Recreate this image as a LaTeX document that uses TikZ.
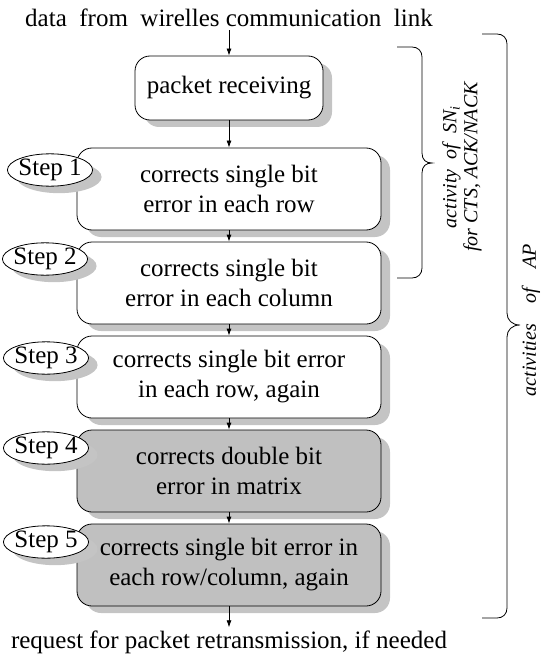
\documentclass[tikz,border=0pt]{standalone}
\usepackage{fontspec}
\setmainfont{Liberation Serif}
\usetikzlibrary{shapes.geometric,shadows,arrows.meta}
\definecolor{shdcol}{RGB}{196,196,196}
\definecolor{boxgray}{RGB}{192,192,192}
\begin{document}
\begin{tikzpicture}[x=1pt,y=-1pt,
 every node/.style={font=\fontsize{25}{30}\selectfont},
 shadowed/.style={drop shadow={shadow xshift=9pt,shadow yshift=-7pt,fill=shdcol,opacity=1}},
 stepbox/.style={draw,fill=white,rounded corners=15pt,minimum width=304pt,minimum height=82pt,align=center,inner sep=0pt,shadowed,line width=0.8pt},
 graybox/.style={stepbox,fill=boxgray},
 steplabel/.style={draw,ellipse,fill=white,inner xsep=-1.5pt,inner ysep=0.5pt,shadowed,line width=0.8pt},
 arr/.style={-{Latex[length=7pt,width=5pt]},line width=0.8pt},
 brace/.style={line width=0.8pt},
 bracetext/.style={font=\fontsize{20}{21}\selectfont\itshape,rotate=90,align=center,inner sep=0pt}]
\useasboundingbox (0,0) rectangle (544,655);

\node (title) at (229,18) {data\ \ from\ \ wirelles communication\ \ link};
\node[draw,fill=white,rounded corners=15pt,minimum width=188pt,minimum height=64pt,inner sep=0pt,shadowed,line width=0.8pt] (pk) at (229,88) {packet receiving};

\node[stepbox] (s1) at (229,189) {corrects single bit\\error in each row};
\node[stepbox] (s2) at (229,283) {corrects single bit\\error in each column};
\node[stepbox] (s3) at (229,377) {corrects single bit error\\in each row, again};
\node[graybox] (s4) at (229,471) {corrects double bit\\error in matrix};
\node[graybox] (s5) at (229,565) {corrects single bit error in\\each row/column, again};

\node[steplabel] (l1) at (50,170) {Step 1};
\node[steplabel] (l2) at (45,259) {Step 2};
\node[steplabel] (l3) at (46,358) {Step 3};
\node[steplabel] (l4) at (46,448) {Step 4};
\node[steplabel] (l5) at (46,542) {Step 5};

\node[inner ysep=3pt] (out) at (229,642) {request for packet retransmission, if needed};

\draw[arr] (title) -- (pk);
\draw[arr] (pk) -- (s1);
\draw[arr] (s1) -- (s2);
\draw[arr] (s2) -- (s3);
\draw[arr] (s3) -- (s4);
\draw[arr] (s4) -- (s5);
\draw[arr] (s5) -- (out);

% inner brace
\coordinate (ib1) at (397,47);
\coordinate (ib2) at (397,278);
\draw[brace] (ib1) -- (412,47) .. controls (418,47) and (422,51) .. (422,57)
  -- (422,153) .. controls (422,160) and (426,163) .. (432,163)
  .. controls (426,163) and (422,166) .. (422,173)
  -- (422,268) .. controls (422,274) and (418,278) .. (412,278) -- (ib2);
\node[bracetext] (actsn) at (462,167) {activity\ \ of\ \ SN\textsubscript{\itshape i}\\for CTS, ACK/NACK};

% outer brace
\coordinate (ob1) at (482,34);
\coordinate (ob2) at (482,618);
\draw[brace] (ob1) -- (497,34) .. controls (503,34) and (507,38) .. (507,44)
  -- (507,313) .. controls (507,320) and (512,325) .. (520,325)
  .. controls (512,325) and (507,330) .. (507,337)
  -- (507,608) .. controls (507,614) and (503,618) .. (497,618) -- (ob2);
\node[bracetext] (actap) at (531,320) {activities\hspace{20pt}of\hspace{20pt}AP};
\end{tikzpicture}
\end{document}
